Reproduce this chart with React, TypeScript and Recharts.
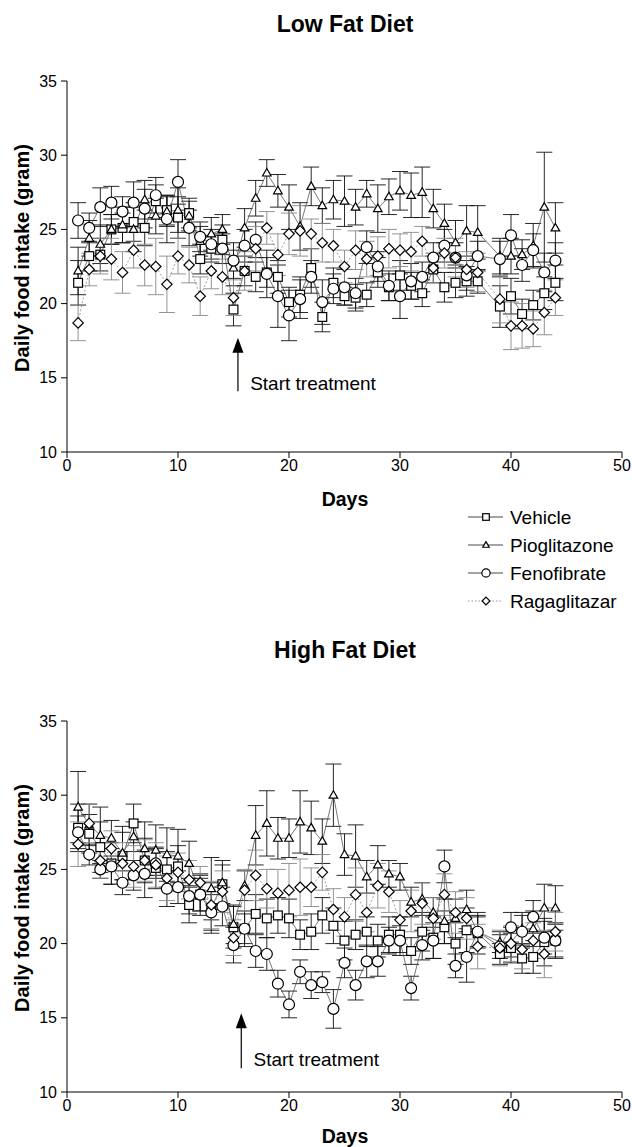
import React from 'react';
import { LineChart, Line, XAxis, YAxis, ErrorBar, ReferenceLine, ReferenceDot } from 'recharts';

const FONT = '"Liberation Sans", Arial, sans-serif';

const days = [1,2,3,4,5,6,7,8,9,10,11,12,13,14,15,16,17,18,19,20,21,22,23,24,25,26,27,28,29,30,31,32,33,34,35,36,37,39,40,41,42,43,44];
const xTicks = [0, 10, 20, 30, 40, 50];
const yTicks = [10, 15, 20, 25, 30, 35];
const seriesNames = ['Vehicle', 'Pioglitazone', 'Fenofibrate', 'Ragaglitazar'];

// Low fat diet
const lowVehicle = [21.4,23.2,23.3,25.0,25.1,25.5,25.1,26.9,26.3,25.8,26.1,23.0,23.7,24.3,19.6,22.2,21.8,22.1,21.8,20.1,20.6,22.4,19.1,21.4,20.5,20.4,20.6,22.1,21.1,21.9,21.2,20.7,22.3,21.1,21.4,21.5,21.5,19.8,20.5,19.3,19.9,20.7,21.4];
const lowPio = [22.2,24.4,24.0,25.0,25.3,25.0,27.0,25.9,26.2,26.3,25.9,24.2,24.7,25.0,22.4,25.1,27.1,28.8,27.6,26.5,25.2,27.9,26.6,27.0,26.9,26.5,27.4,26.4,27.2,27.6,27.3,27.5,26.4,25.4,24.1,24.9,24.8,23.2,23.2,23.3,23.9,26.5,25.1];
const lowFeno = [25.6,25.1,26.5,26.8,26.2,26.8,26.4,27.3,25.7,28.2,25.1,24.5,24.0,23.7,22.9,23.9,24.3,22.0,20.5,19.2,20.3,21.8,20.1,21.0,21.1,20.7,23.8,22.5,21.2,20.5,21.5,21.8,23.1,23.9,23.1,21.9,23.2,23.0,24.6,22.6,23.6,22.1,22.9];
const lowRaga = [18.7,22.3,23.2,23.0,22.1,23.6,22.6,22.5,21.3,23.2,22.6,20.5,22.2,21.8,20.4,22.2,23.7,25.1,23.3,24.7,24.9,24.7,24.1,23.9,22.5,23.6,23.0,23.2,23.7,23.6,23.5,24.2,22.4,23.4,23.1,22.3,22.1,20.3,18.5,18.5,18.3,19.4,20.4];
const lowVehicleErr = [1.5,1.0,1.1,1.0,1.0,1.3,1.2,1.1,1.0,1.4,1.0,1.0,0.9,1.0,1.1,1.0,1.0,1.0,1.1,1.0,1.2,1.3,1.0,1.0,0.6,0.9,0.8,1.0,0.9,1.0,0.9,0.9,0.9,1.0,1.0,1.0,0.8,1.4,1.2,1.0,1.0,1.1,1.2];
const lowPioErr = [1.6,1.2,1.3,1.0,1.2,1.5,1.3,1.2,1.0,1.5,1.0,1.0,1.1,1.0,1.2,1.3,1.2,0.9,1.1,1.5,1.6,1.3,1.2,1.3,1.7,1.2,0.9,1.6,1.2,1.3,1.5,1.7,1.3,1.3,1.5,1.7,1.8,1.2,1.2,1.0,1.5,3.7,1.7];
const lowFenoErr = [1.2,1.0,1.3,1.1,1.0,1.4,1.3,1.2,1.6,1.5,1.2,1.0,1.0,1.0,1.2,1.1,1.2,1.6,2.1,1.7,1.3,1.1,1.5,1.0,1.2,1.0,1.1,1.0,1.0,1.5,1.2,1.0,1.0,1.1,1.0,1.0,1.0,1.2,1.4,1.1,1.1,1.3,1.2];
const lowRagaErr = [1.2,1.1,1.2,1.4,1.4,1.2,1.4,1.9,1.9,1.2,1.2,1.3,1.2,1.2,1.2,1.3,1.5,1.1,1.4,1.4,1.7,1.0,1.3,1.1,1.1,1.3,1.2,1.3,1.3,1.1,1.3,1.0,1.0,1.0,1.3,1.2,1.3,1.6,1.6,1.5,1.2,1.5,1.2];

// High fat diet
const highVehicle = [27.8,27.4,26.5,25.4,25.9,28.1,25.6,25.1,25.0,25.2,22.6,23.3,22.4,24.0,21.1,21.0,22.0,21.7,21.9,21.7,20.6,20.8,21.9,21.2,20.2,20.6,20.8,20.2,20.6,20.6,19.5,20.8,20.4,21.1,20.0,20.9,20.7,19.3,19.7,19.0,19.1,20.1,20.2];
const highPio = [29.2,28.0,27.3,27.1,26.1,27.2,26.4,26.3,26.0,25.9,25.4,23.4,23.7,24.1,21.3,23.9,27.3,28.1,27.1,27.1,28.2,27.8,26.9,30.0,26.0,25.9,24.5,25.3,24.7,24.5,22.8,23.0,22.1,21.5,21.7,22.3,20.8,20.1,20.1,21.0,21.0,22.4,22.4];
const highFeno = [27.5,26.0,25.0,25.2,24.1,24.6,24.7,25.4,23.7,23.8,23.2,23.3,22.1,22.5,19.9,21.0,19.5,19.3,17.3,15.9,18.1,17.2,17.4,15.6,18.7,17.2,18.8,18.8,20.2,20.2,17.0,19.9,20.2,25.2,18.5,19.1,20.8,19.8,21.1,20.8,21.8,20.4,20.2];
const highRaga = [26.7,28.1,25.6,26.4,25.4,25.2,25.6,25.3,24.4,24.8,24.3,24.1,22.6,23.5,20.4,23.6,24.6,23.7,23.4,23.6,23.8,23.8,24.8,22.3,21.8,23.3,22.1,23.9,23.5,21.6,22.2,22.7,21.7,23.3,22.1,21.7,19.8,19.7,20.0,19.6,20.2,19.3,20.8];
const highVehicleErr = [1.6,1.3,1.7,1.4,1.6,1.3,1.5,1.4,1.2,1.4,1.2,1.4,1.7,1.3,1.4,1.0,1.3,1.3,1.2,1.3,1.0,1.2,1.2,1.2,1.3,1.0,1.0,1.1,1.2,1.2,0.9,1.3,1.4,1.1,1.4,1.5,1.4,0.7,1.0,1.0,1.1,1.6,1.2];
const highPioErr = [2.4,1.4,1.9,1.2,1.8,1.0,1.8,1.7,1.8,1.8,1.5,1.2,2.1,1.5,1.3,1.0,2.0,2.2,1.4,1.3,2.1,1.8,1.5,2.1,1.4,2.1,1.1,1.3,0.9,0.9,1.0,1.1,1.0,1.5,1.3,1.3,1.0,0.7,1.0,1.1,1.2,1.6,1.5];
const highFenoErr = [1.1,0.7,0.6,1.2,0.8,1.0,1.6,1.0,1.2,1.1,1.2,1.1,1.2,1.3,1.2,1.2,1.1,1.1,0.9,0.9,0.8,0.9,0.7,1.3,1.0,1.0,1.1,1.0,0.9,1.0,0.8,1.0,1.2,1.1,0.8,1.7,1.1,0.8,1.0,1.1,1.1,1.1,1.1];
const highRagaErr = [1.5,1.3,1.2,1.2,1.4,1.4,1.4,1.5,1.5,1.3,1.3,1.1,1.6,1.4,1.2,1.4,1.7,1.3,1.6,1.8,1.9,1.3,1.2,1.4,1.3,1.8,1.3,1.5,1.4,1.3,1.4,1.4,1.4,1.4,1.4,1.4,1.5,1.2,1.2,1.3,1.2,1.6,1.3];

// arrow annotation (data coords)
const lowArrow = { x: 15.4, y0: 14.1, y1: 17.7, textX: 16.5, textY: 14.6 };
const highArrow = { x: 15.7, y0: 11.6, y1: 15.3, textX: 16.8, textY: 12.2 };

const buildRows = (v: number[], p: number[], f: number[], r: number[], ve: number[], pe: number[], fe: number[], re: number[]) =>
  days.map((d, i) => ({ day: d, veh: v[i], pio: p[i], feno: f[i], raga: r[i], vehErr: ve[i], pioErr: pe[i], fenoErr: fe[i], ragaErr: re[i] }));

const lowRows = buildRows(lowVehicle, lowPio, lowFeno, lowRaga, lowVehicleErr, lowPioErr, lowFenoErr, lowRagaErr);
const highRows = buildRows(highVehicle, highPio, highFeno, highRaga, highVehicleErr, highPioErr, highFenoErr, highRagaErr);

type Shape = 'square' | 'triangle' | 'circle' | 'diamond';

const MarkerShape = ({ cx, cy, shape, s = 1 }: { cx: number; cy: number; shape: Shape; s?: number }) => {
  if (cx == null || cy == null || isNaN(cx) || isNaN(cy)) return null;
  const common = { fill: '#fff', stroke: '#000', strokeWidth: 1.2 };
  if (shape === 'square') {
    const h = 4.4 * s;
    return <rect x={cx - h} y={cy - h} width={2 * h} height={2 * h} {...common} />;
  }
  if (shape === 'triangle') {
    const h = 4.3 * s;
    return <polygon points={`${cx},${cy - h * 1.05} ${cx - h},${cy + h * 0.7} ${cx + h},${cy + h * 0.7}`} {...common} />;
  }
  if (shape === 'circle') {
    return <circle cx={cx} cy={cy} r={5.5 * s} {...common} />;
  }
  const h = 5.2 * s;
  return <polygon points={`${cx},${cy - h} ${cx + h},${cy} ${cx},${cy + h} ${cx - h},${cy}`} {...common} />;
};

const makeDot = (shape: Shape) => (p: any) => (
  <MarkerShape key={`${shape}-${p.index}`} cx={p.cx} cy={p.cy} shape={shape} />
);

const seriesDefs: { key: string; err: string; shape: Shape; dash?: string; stroke: string; errStroke: string }[] = [
  { key: 'veh', err: 'vehErr', shape: 'square', stroke: '#555', errStroke: '#111' },
  { key: 'pio', err: 'pioErr', shape: 'triangle', stroke: '#555', errStroke: '#111' },
  { key: 'feno', err: 'fenoErr', shape: 'circle', stroke: '#555', errStroke: '#111' },
  { key: 'raga', err: 'ragaErr', shape: 'diamond', dash: '2 2', stroke: '#888', errStroke: '#888' },
];

const ArrowHead = (p: any) => {
  const { cx, cy } = p;
  if (cx == null || cy == null) return null;
  return <polygon points={`${cx},${cy} ${cx - 5.5},${cy + 15} ${cx + 5.5},${cy + 15}`} fill="#000" />;
};

const StartText = (p: any) => {
  const { cx, cy } = p;
  if (cx == null || cy == null) return null;
  return (
    <text x={cx} y={cy} dominantBaseline="central" fontFamily={FONT} fontSize={19} fill="#000">
      Start treatment
    </text>
  );
};

const tickStyle = { fontFamily: FONT, fontSize: 16, fill: '#000' };

const Panel = ({ rows, arrow }: { rows: any[]; arrow: typeof lowArrow }) => (
  <LineChart width={632} height={482} data={rows} margin={{ top: 81, right: 10, left: 0, bottom: 0 }}>
    <XAxis
      dataKey="day"
      type="number"
      domain={[0, 50]}
      ticks={xTicks}
      interval={0}
      height={30}
      tickSize={6}
      tickMargin={2}
      tick={tickStyle}
      axisLine={{ stroke: '#000', strokeWidth: 1 }}
      tickLine={{ stroke: '#000' }}
    />
    <YAxis
      type="number"
      domain={[10, 35]}
      ticks={yTicks}
      interval={0}
      width={67}
      tickSize={6}
      tickMargin={4}
      tick={tickStyle}
      axisLine={{ stroke: '#000', strokeWidth: 1 }}
      tickLine={{ stroke: '#000' }}
    />
    {seriesDefs.map((s) => (
      <Line
        key={s.key}
        dataKey={s.key}
        type="linear"
        stroke={s.stroke}
        strokeWidth={0.8}
        strokeDasharray={s.dash}
        dot={makeDot(s.shape)}
        activeDot={false}
        isAnimationActive={false}
      >
        <ErrorBar dataKey={s.err} width={8} stroke={s.errStroke} strokeWidth={0.9} direction="y" isAnimationActive={false} />
      </Line>
    ))}
    <ReferenceLine segment={[{ x: arrow.x, y: arrow.y0 }, { x: arrow.x, y: arrow.y1 - 0.6 }]} stroke="#000" strokeWidth={1.2} />
    <ReferenceDot x={arrow.x} y={arrow.y1} r={0} shape={ArrowHead} />
    <ReferenceDot x={arrow.textX} y={arrow.textY} r={0} shape={StartText} />
  </LineChart>
);

const legendRows: { name: string; shape: Shape; dash?: string }[] = [
  { name: seriesNames[0], shape: 'square' },
  { name: seriesNames[1], shape: 'triangle' },
  { name: seriesNames[2], shape: 'circle' },
  { name: seriesNames[3], shape: 'diamond', dash: '1.5 2' },
];

const BOTTOM_TOP = 640;

const Overlay = () => (
  <svg width={632} height={1147} style={{ position: 'absolute', left: 0, top: 0, pointerEvents: 'none' }}>
    <g fontFamily={FONT} fill="#000">
      <text x={345} y={24} textAnchor="middle" dominantBaseline="central" fontWeight="bold" fontSize={23}>Low Fat Diet</text>
      <text x={345} y={BOTTOM_TOP + 10} textAnchor="middle" dominantBaseline="central" fontWeight="bold" fontSize={23}>High Fat Diet</text>
      <text transform="translate(22,258) rotate(-90)" textAnchor="middle" dominantBaseline="central" fontWeight="bold" fontSize={20}>Daily food intake (gram)</text>
      <text transform={`translate(22,${BOTTOM_TOP + 258}) rotate(-90)`} textAnchor="middle" dominantBaseline="central" fontWeight="bold" fontSize={20}>Daily food intake (gram)</text>
      <text x={345} y={499} textAnchor="middle" dominantBaseline="central" fontWeight="bold" fontSize={19.5}>Days</text>
      <text x={345} y={1136} textAnchor="middle" dominantBaseline="central" fontWeight="bold" fontSize={19.5}>Days</text>
      {legendRows.map((r, i) => {
        const y = 517 + i * 28;
        return (
          <g key={r.name}>
            <line x1={468} x2={503} y1={y} y2={y} stroke={r.dash ? '#888' : '#333'} strokeWidth={0.9} strokeDasharray={r.dash} />
            <MarkerShape cx={486} cy={y} shape={r.shape} s={0.75} />
            <text x={510} y={y} dominantBaseline="central" fontSize={19}>{r.name}</text>
          </g>
        );
      })}
    </g>
  </svg>
);

export default function App() {
  return (
    <div style={{ position: 'absolute', left: 0, top: 0, width: 632, height: 1147, background: '#fff', overflow: 'hidden' }}>
      <div style={{ position: 'absolute', left: 0, top: 0 }}>
        <Panel rows={lowRows} arrow={lowArrow} />
      </div>
      <div style={{ position: 'absolute', left: 0, top: BOTTOM_TOP }}>
        <Panel rows={highRows} arrow={highArrow} />
      </div>
      <Overlay />
    </div>
  );
}
